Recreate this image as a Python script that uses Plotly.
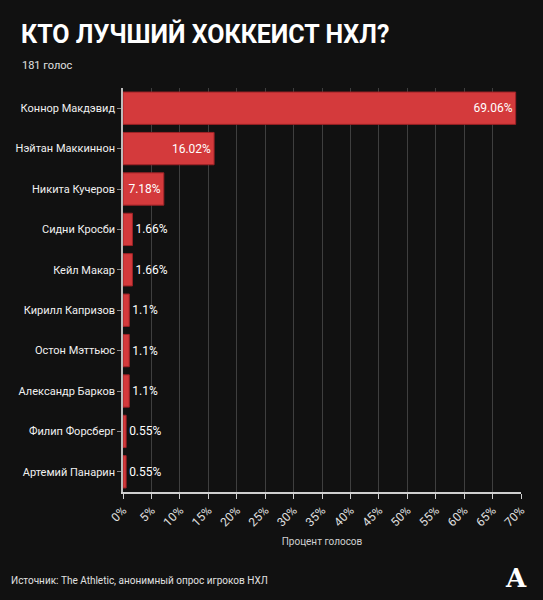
import plotly.graph_objects as go

players = ["Коннор Макдэвид", "Нэйтан Маккиннон", "Никита Кучеров", "Сидни Кросби",
           "Кейл Макар", "Кирилл Капризов", "Остон Мэттьюс", "Александр Барков",
           "Филип Форсберг", "Артемий Панарин"]
percents = [69.06, 16.02, 7.18, 1.66, 1.66, 1.1, 1.1, 1.1, 0.55, 0.55]
label_texts = ["69.06%", "16.02%", "7.18%", "1.66%", "1.66%", "1.1%", "1.1%", "1.1%", "0.55%", "0.55%"]
tick_vals = list(range(0, 75, 5))
tick_texts = [f"{v}%" for v in tick_vals]

positions = ["inside" if v > 5 else "outside" for v in percents]

L, R, T, B = 123, 22, 88, 108
PW, PH = 543 - L - R, 600 - T - B


def px(x):
    return (x - L) / PW


def py(y):
    return 1 - (y - T) / PH


fig = go.Figure(go.Bar(
    x=percents, y=players, orientation="h",
    text=label_texts, textposition=positions,
    insidetextanchor="end",
    textfont=dict(color="white", size=12, family="Roboto"),
    marker=dict(color="#d43a3c", line=dict(color="#9e2226", width=1)),
    cliponaxis=False,
))

fig.update_layout(
    width=543, height=600,
    paper_bgcolor="#111111", plot_bgcolor="#111111",
    margin=dict(l=L, r=R, t=T, b=B),
    bargap=0.2,
    showlegend=False,
    font=dict(family="Roboto", color="white"),
    uniformtext=dict(minsize=8, mode="show"),
)
fig.update_xaxes(
    range=[0, 70], tickvals=tick_vals, ticktext=tick_texts, tickangle=-45,
    showgrid=True, gridcolor="#3f3f3f", gridwidth=1,
    showline=True, linecolor="#cfcfcf", linewidth=1.5,
    ticks="outside", tickcolor="#cfcfcf", ticklen=5,
    tickfont=dict(size=12, color="#e0e0e0"),
    title=dict(text="Процент голосов", font=dict(size=10, color="#d0d0d0"), standoff=10),
    zeroline=False,
)
fig.update_yaxes(
    autorange="reversed",
    showline=True, linecolor="#bdbdbd", linewidth=1.5,
    ticks="outside", tickcolor="#888888", ticklen=4,
    tickfont=dict(size=11, color="#f0f0f0"),
    showgrid=False,
)

fig.add_annotation(text="<b>КТО ЛУЧШИЙ ХОККЕИСТ НХЛ?</b>", xref="paper", yref="paper",
                   x=px(19), xanchor="left", y=py(34), yanchor="middle",
                   showarrow=False, font=dict(size=25, color="white", family="Roboto"))
fig.add_annotation(text="181 голос", xref="paper", yref="paper",
                   x=px(20), xanchor="left", y=py(66), yanchor="middle",
                   showarrow=False, font=dict(size=11, color="#e0e0e0", family="Roboto"))
fig.add_annotation(text="Источник: The Athletic, анонимный опрос игроков НХЛ", xref="paper", yref="paper",
                   x=px(9), xanchor="left", y=py(580), yanchor="middle",
                   showarrow=False, font=dict(size=10, color="#e0e0e0", family="Roboto"))
fig.add_annotation(text="<b>A</b>", xref="paper", yref="paper",
                   x=px(516), xanchor="center", y=py(578), yanchor="middle",
                   showarrow=False, font=dict(size=26, color="white", family="DejaVu Serif"))

fig.write_html(
    "out.html",
    config={"displayModeBar": False},
    post_script="document.body.style.margin='0';document.body.style.background='#111111';"
                "document.body.style.overflow='hidden';",
)
